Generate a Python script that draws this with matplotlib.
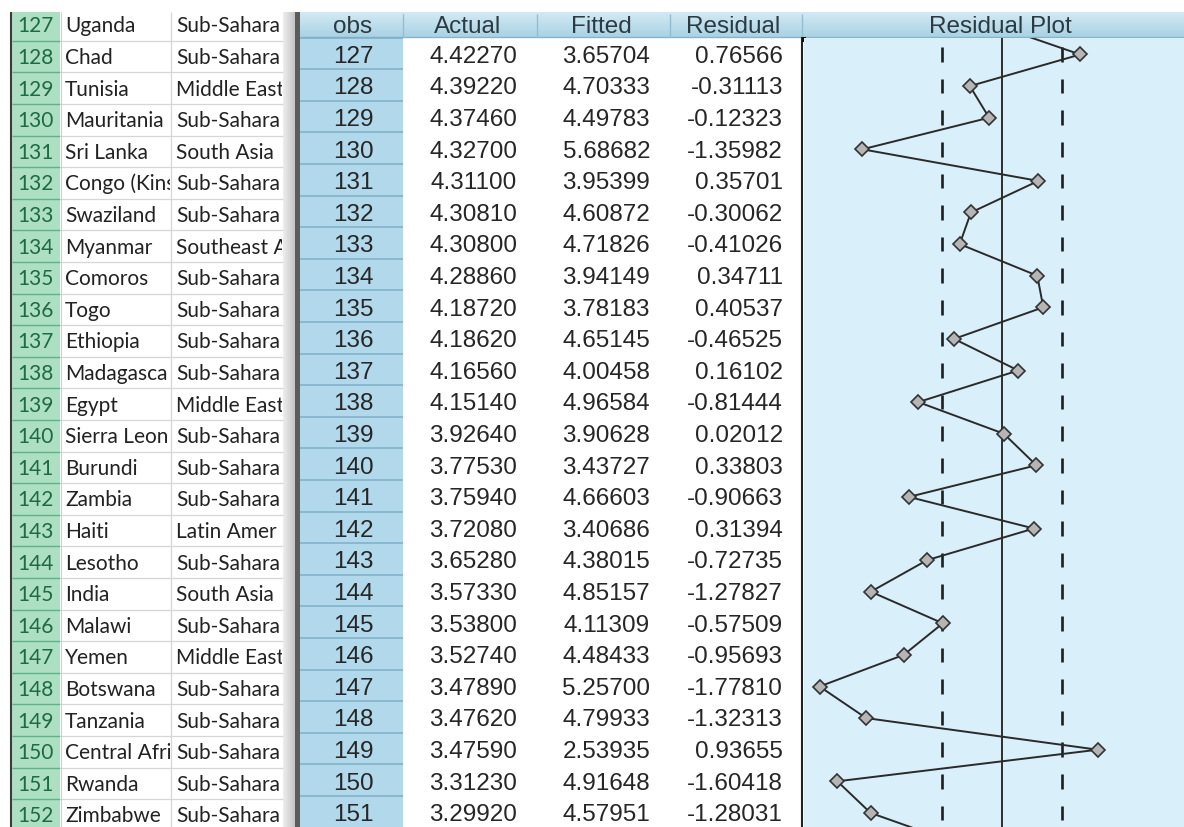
import numpy as np
import matplotlib
matplotlib.use("Agg")
import matplotlib.pyplot as plt
from matplotlib.patches import Rectangle
from matplotlib.colors import LinearSegmentedColormap
from matplotlib.transforms import Bbox, TransformedBbox

# ---------------- data ----------------
row_numbers = list(range(127, 153))
# cell texts as visible in the (narrow) spreadsheet columns
countries = ["Uganda", "Chad", "Tunisia", "Mauritania", "Sri Lanka",
             "Congo (Kins", "Swaziland", "Myanmar", "Comoros", "Togo",
             "Ethiopia", "Madagasca", "Egypt", "Sierra Leon", "Burundi",
             "Zambia", "Haiti", "Lesotho", "India", "Malawi", "Yemen",
             "Botswana", "Tanzania", "Central Afri", "Rwanda",
             "Zimbabwe"]
regions = ["Sub-Sahara", "Sub-Sahara", "Middle East", "Sub-Sahara",
           "South Asia", "Sub-Sahara", "Sub-Sahara", "Southeast A",
           "Sub-Sahara", "Sub-Sahara", "Sub-Sahara", "Sub-Sahara",
           "Middle East", "Sub-Sahara", "Sub-Sahara", "Sub-Sahara",
           "Latin Amer", "Sub-Sahara", "South Asia", "Sub-Sahara",
           "Middle East", "Sub-Sahara", "Sub-Sahara", "Sub-Sahara",
           "Sub-Sahara", "Sub-Sahara"]

obs = list(range(127, 152))
actual = [4.42270, 4.39220, 4.37460, 4.32700, 4.31100, 4.30810, 4.30800,
          4.28860, 4.18720, 4.18620, 4.16560, 4.15140, 3.92640, 3.77530,
          3.75940, 3.72080, 3.65280, 3.57330, 3.53800, 3.52740, 3.47890,
          3.47620, 3.47590, 3.31230, 3.29920]
fitted = [3.65704, 4.70333, 4.49783, 5.68682, 3.95399, 4.60872, 4.71826,
          3.94149, 3.78183, 4.65145, 4.00458, 4.96584, 3.90628, 3.43727,
          4.66603, 3.40686, 4.38015, 4.85157, 4.11309, 4.48433, 5.25700,
          4.79933, 2.53935, 4.91648, 4.57951]
residual = [0.76566, -0.31113, -0.12323, -1.35982, 0.35701, -0.30062,
            -0.41026, 0.34711, 0.40537, -0.46525, 0.16102, -0.81444,
            0.02012, 0.33803, -0.90663, 0.31394, -0.72735, -1.27827,
            -0.57509, -0.95693, -1.77810, -1.32313, 0.93655, -1.60418,
            -1.28031]
# off-screen neighbours (estimated from the clipped segments)
prev_obs, prev_resid = 126, -0.13
next_obs, next_resid = 152, -0.41
se_band = 0.585

# ---------------- layout ----------------
W, H = 1184, 827
RH = 31.6
TOP = 12
HDR_BOT = 37
LEFT_C0 = 25.0
RIGHT_C0 = 54.5
X_ZERO, X_SCALE = 1001.5, 102.6
PLOT_X0 = 803

fig = plt.figure(figsize=(W / 100, H / 100), dpi=100)
fig.patch.set_facecolor("white")
bg = fig.add_axes([0, 0, 1, 1])
bg.axis("off")


def rect(x0, y0, x1, y1, **kw):
    bg.add_patch(Rectangle((x0, y0), x1 - x0, y1 - y0, lw=0, **kw))


def hline(y, x0, x1, **kw):
    bg.plot([x0, x1], [y, y], solid_capstyle="butt", **kw)


def vline(x, y0, y1, **kw):
    bg.plot([x, x], [y0, y1], solid_capstyle="butt", **kw)


def vgrad(x0, x1, y0, y1, c0, c1):
    cm = LinearSegmentedColormap.from_list("g", [c0, c1])
    bg.imshow(np.linspace(0, 1, 64).reshape(-1, 1), cmap=cm, aspect="auto",
              extent=(x0, x1, y1, y0), interpolation="bilinear", zorder=0.5)


def hgrad(x0, x1, y0, y1, c0, c1):
    cm = LinearSegmentedColormap.from_list("g", [c0, c1])
    bg.imshow(np.linspace(0, 1, 64).reshape(1, -1), cmap=cm, aspect="auto",
              extent=(x0, x1, y1, y0), interpolation="bilinear", zorder=0.5)


# ---- Excel part ----
rect(12, TOP, 60, H, fc="#ADDFC3", zorder=0.4)
for k in range(len(row_numbers)):
    yb = LEFT_C0 + RH * (k + 0.5)
    hline(yb, 12, 60, color="#5FB386", lw=1.0, zorder=1)
    hline(yb, 60, 283, color="#D6D6D6", lw=0.9, zorder=1)
vline(60.5, TOP, H, color="#B9DCC8", lw=0.8, zorder=1)
vline(171, TOP, H, color="#D6D6D6", lw=0.9, zorder=1)
vline(11, TOP, H, color="#3C3C3C", lw=1.5, zorder=1)
hgrad(283, 295, TOP, H, "#EEEEEE", "#C4C4C4")
rect(295, TOP, 300, H, fc="#5C5C5C", zorder=1)

left_font = dict(family=["Lato", "DejaVu Sans"], fontsize=15)
country_clip = TransformedBbox(Bbox.from_extents(60, 0, 170, H), bg.transData)
region_clip = TransformedBbox(Bbox.from_extents(171, 0, 282, H), bg.transData)
for k, (rn, c, r) in enumerate(zip(row_numbers, countries, regions)):
    yc = LEFT_C0 + RH * k
    yb = yc + 7.3
    bg.text(35, yb, str(rn), ha="center", va="baseline", color="#1E6A42",
            zorder=3, **left_font)
    t = bg.text(65, yb, c, ha="left", va="baseline", color="#222222",
                zorder=3, **left_font)
    t.set_clip_box(country_clip)
    t.set_clip_on(True)
    t = bg.text(176, yb, r, ha="left", va="baseline", color="#222222",
                zorder=3, **left_font)
    t.set_clip_box(region_clip)
    t.set_clip_on(True)

# ---- EViews part ----
vgrad(300, W, TOP, HDR_BOT, "#D3EAF4", "#A9D2E4")
hline(HDR_BOT, 300, W, color="#86B4CA", lw=1.0, zorder=1)
for xs in (403, 537, 670, 802):
    vline(xs, TOP + 2, HDR_BOT, color="#93BDD1", lw=1.0, zorder=1)
rect(300, HDR_BOT, 403, H, fc="#B1D9EB", zorder=0.4)
rect(403, HDR_BOT, 802, H, fc="white", zorder=0.4)
for j in range(len(obs) + 1):
    yb = RIGHT_C0 - 17 + RH * j
    hline(yb, 300, 403, color="#7EAFC7", lw=1.1, zorder=1)
vline(802, HDR_BOT, H, color="#222222", lw=1.5, zorder=2)
rect(802, HDR_BOT, 806, HDR_BOT + 5, fc="#111111", zorder=2)

ev_font = dict(family=["Liberation Sans", "DejaVu Sans"], fontsize=17.5)
hdr_y = 24.5 + 8.3
headers = ["obs", "Actual", "Fitted", "Residual", "Residual Plot"]
hdr_x = [353, 468, 601, 733, 1000]
for hx, ht in zip(hdr_x, headers):
    bg.text(hx, hdr_y, ht, ha="center", va="baseline", color="#2C3A42",
            zorder=3, **ev_font)

for j, (o, a, f, r) in enumerate(zip(obs, actual, fitted, residual)):
    yb = RIGHT_C0 + RH * j + 8.3
    bg.text(353, yb, str(o), ha="center", va="baseline", color="#262626",
            zorder=3, **ev_font)
    bg.text(517, yb, f"{a:.5f}", ha="right", va="baseline", color="#262626",
            zorder=3, **ev_font)
    bg.text(650, yb, f"{f:.5f}", ha="right", va="baseline", color="#262626",
            zorder=3, **ev_font)
    bg.text(783, yb, f"{r:.5f}", ha="right", va="baseline", color="#262626",
            zorder=3, **ev_font)

rect(0, 0, W, TOP, fc="white", zorder=2.5)
bg.set_xlim(0, W)
bg.set_ylim(H, 0)

# ---- Residual plot ----
pax = fig.add_axes([(PLOT_X0 + 0.5) / W, 0, (W - PLOT_X0 - 0.5) / W, (H - HDR_BOT - 0.5) / H])
pax.set_facecolor("#D9EFF9")
for s in pax.spines.values():
    s.set_visible(False)
pax.set_xticks([])
pax.set_yticks([])
pax.set_xlim((PLOT_X0 - X_ZERO) / X_SCALE, (W - X_ZERO) / X_SCALE)
pax.set_ylim(obs[0] + (H - RIGHT_C0) / RH, obs[0] + (HDR_BOT + 0.5 - RIGHT_C0) / RH)

obs_arr = np.array(obs, dtype=float)
pax.axvline(0, color="#2E2E2E", lw=1.4, zorder=2)
for sgn in (-1, 1):
    pax.vlines(np.full(len(obs_arr), sgn * se_band), obs_arr - 0.23, obs_arr + 0.23,
               color="#1E1E1E", lw=1.9, zorder=2)

plot_obs = [prev_obs] + obs + [next_obs]
plot_res = [prev_resid] + residual + [next_resid]
pax.plot(plot_res, plot_obs, color="#2A2A2A", lw=1.4, zorder=3,
         marker="D", ms=7.5, mfc="#B5B5B5", mec="#333333", mew=1.2)

fig.savefig("out.png", dpi=100, facecolor="white")
